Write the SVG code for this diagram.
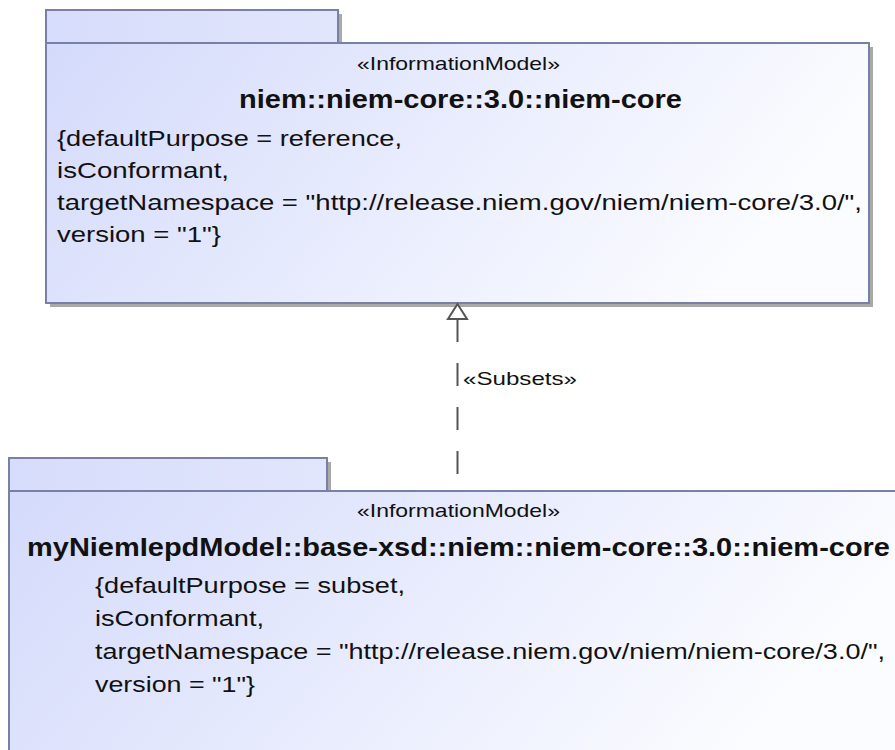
<svg xmlns="http://www.w3.org/2000/svg" width="895" height="750" viewBox="0 0 895 750">
<defs>
<linearGradient id="fillG" x1="0" y1="0" x2="1" y2="0.25">
<stop offset="0" stop-color="#d4dafb"/>
<stop offset="1" stop-color="#fbfcff"/>
</linearGradient>
<linearGradient id="tabG" x1="0" y1="0" x2="1" y2="0">
<stop offset="0" stop-color="#d6dcfb"/>
<stop offset="1" stop-color="#e2e6fc"/>
</linearGradient>
</defs>
<style>
.shadow{fill:#a9a9a9;}
.box{fill:url(#fillG);stroke:#7880a6;stroke-width:2;}
.tab{fill:url(#tabG);stroke:#7880a6;stroke-width:2;}
.st{font-family:"Liberation Sans",Arial,sans-serif;font-size:19px;fill:#111;text-anchor:middle;}
.ti{font-family:"Liberation Sans",Arial,sans-serif;font-size:25px;font-weight:bold;fill:#111;text-anchor:middle;}
.pr{font-family:"Liberation Sans",Arial,sans-serif;font-size:22px;fill:#111;}
.lbl{font-family:"Liberation Sans",Arial,sans-serif;font-size:19px;fill:#111;}
.dep{stroke:#555;stroke-width:2;fill:none;}
</style>
<rect width="895" height="750" fill="#ffffff"/>
<g id="niem-core">
<rect class="shadow" x="338" y="14" width="4" height="29"/>
<rect class="shadow" x="50" y="47" width="823" height="260"/>
<rect class="tab" x="46" y="10" width="292" height="33"/>
<rect class="box" x="46" y="43" width="823" height="260"/>
<text class="st" x="458.5" y="70" textLength="203" lengthAdjust="spacingAndGlyphs">«InformationModel»</text>
<text class="ti" x="460.5" y="108" textLength="443" lengthAdjust="spacingAndGlyphs">niem::niem-core::3.0::niem-core</text>
<text class="pr" x="57" y="146" textLength="345" lengthAdjust="spacingAndGlyphs">{defaultPurpose = reference,</text>
<text class="pr" x="57" y="178" textLength="172" lengthAdjust="spacingAndGlyphs">isConformant,</text>
<text class="pr" x="57" y="210" textLength="805" lengthAdjust="spacingAndGlyphs">targetNamespace = "http://release.niem.gov/niem/niem-core/3.0/",</text>
<text class="pr" x="57" y="242" textLength="164" lengthAdjust="spacingAndGlyphs">version = "1"}</text>
</g>
<g id="myNiemIepdModel-niem-core">
<rect class="shadow" x="327" y="462" width="4" height="29"/>
<rect class="tab" x="9" y="458" width="318" height="33"/>
<rect class="box" x="9" y="491" width="900" height="270"/>
<text class="st" x="458.5" y="517" textLength="203" lengthAdjust="spacingAndGlyphs">«InformationModel»</text>
<text class="ti" x="458.5" y="556" textLength="863" lengthAdjust="spacingAndGlyphs">myNiemIepdModel::base-xsd::niem::niem-core::3.0::niem-core</text>
<text class="pr" x="95" y="593" textLength="310" lengthAdjust="spacingAndGlyphs">{defaultPurpose = subset,</text>
<text class="pr" x="95" y="626" textLength="169" lengthAdjust="spacingAndGlyphs">isConformant,</text>
<text class="pr" x="95" y="659" textLength="790" lengthAdjust="spacingAndGlyphs">targetNamespace = "http://release.niem.gov/niem/niem-core/3.0/",</text>
<text class="pr" x="95" y="692" textLength="160" lengthAdjust="spacingAndGlyphs">version = "1"}</text>
</g>
<g id="connectors">
<line class="dep" x1="457.5" y1="319" x2="457.5" y2="474" stroke-dasharray="23 21"/>
<polygon points="457.5,304 448,319 467,319" fill="#ffffff" stroke="#555" stroke-width="2"/>
<text class="lbl" x="463" y="385" textLength="114" lengthAdjust="spacingAndGlyphs">«Subsets»</text>
</g>
</svg>
